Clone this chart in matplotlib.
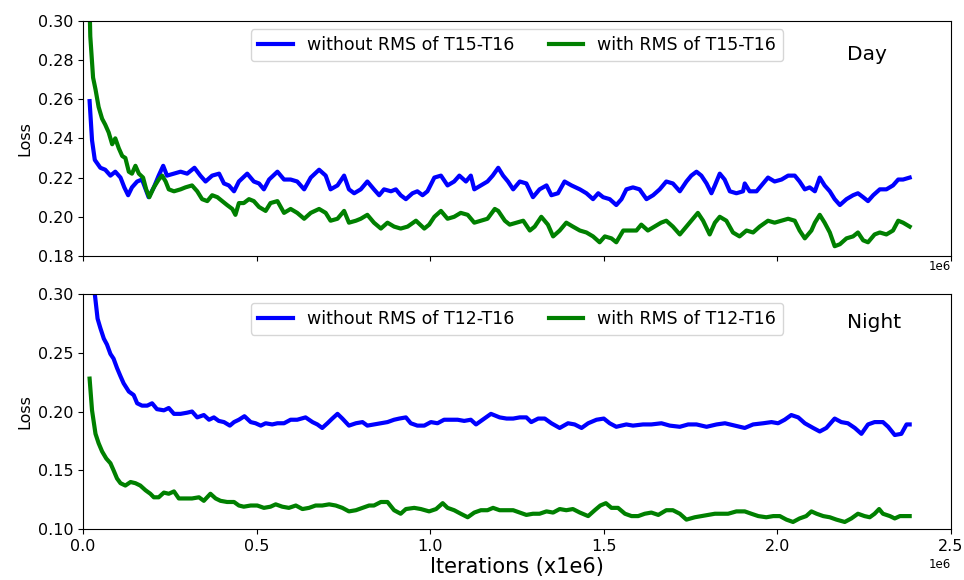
import matplotlib
matplotlib.use("Agg")
import matplotlib.pyplot as plt

# ---------------- data (iterations in units of 1e6) ----------------
day_without_x = [0.019, 0.026, 0.034, 0.050, 0.064, 0.079, 0.093, 0.108, 0.119, 0.130, 0.141, 0.156, 0.170, 0.189, 0.204,
                 0.218, 0.231, 0.242, 0.262, 0.281, 0.300, 0.321, 0.338, 0.353, 0.372, 0.392, 0.406, 0.420, 0.435, 0.449,
                 0.473, 0.492, 0.507, 0.521, 0.536, 0.560, 0.579, 0.598, 0.617, 0.637, 0.656, 0.680, 0.699, 0.713, 0.733,
                 0.752, 0.766, 0.781, 0.800, 0.819, 0.838, 0.853, 0.867, 0.887, 0.901, 0.915, 0.930, 0.949, 0.963, 0.978,
                 0.992, 1.012, 1.031, 1.050, 1.069, 1.084, 1.103, 1.117, 1.127, 1.146, 1.165, 1.180, 1.196, 1.210, 1.224,
                 1.239, 1.258, 1.277, 1.296, 1.315, 1.335, 1.349, 1.368, 1.387, 1.407, 1.431, 1.450, 1.469, 1.484, 1.498,
                 1.517, 1.536, 1.551, 1.565, 1.584, 1.603, 1.623, 1.642, 1.661, 1.680, 1.699, 1.719, 1.738, 1.752, 1.767,
                 1.781, 1.796, 1.810, 1.820, 1.834, 1.848, 1.863, 1.882, 1.901, 1.906, 1.920, 1.940, 1.954, 1.973, 1.992,
                 2.012, 2.031, 2.050, 2.064, 2.079, 2.093, 2.108, 2.122, 2.136, 2.151, 2.165, 2.180, 2.199, 2.218, 2.232,
                 2.247, 2.261, 2.276, 2.295, 2.314, 2.333, 2.348, 2.362, 2.381]
day_without_y = [0.259, 0.239, 0.229, 0.225, 0.224, 0.221, 0.223, 0.220, 0.215, 0.211, 0.215, 0.218, 0.219, 0.210, 0.215,
                 0.221, 0.226, 0.221, 0.222, 0.223, 0.222, 0.225, 0.221, 0.218, 0.221, 0.222, 0.217, 0.216, 0.213, 0.218,
                 0.222, 0.218, 0.217, 0.214, 0.219, 0.223, 0.219, 0.219, 0.218, 0.214, 0.220, 0.224, 0.221, 0.214, 0.216,
                 0.221, 0.214, 0.212, 0.214, 0.218, 0.214, 0.211, 0.214, 0.213, 0.214, 0.211, 0.209, 0.212, 0.213, 0.211,
                 0.213, 0.220, 0.221, 0.216, 0.218, 0.221, 0.218, 0.221, 0.214, 0.216, 0.218, 0.221, 0.225, 0.221, 0.218,
                 0.214, 0.218, 0.217, 0.210, 0.214, 0.216, 0.211, 0.212, 0.218, 0.216, 0.214, 0.212, 0.209, 0.212, 0.210,
                 0.209, 0.206, 0.209, 0.214, 0.215, 0.214, 0.209, 0.211, 0.214, 0.218, 0.217, 0.213, 0.218, 0.221, 0.223,
                 0.221, 0.217, 0.212, 0.216, 0.222, 0.219, 0.213, 0.212, 0.213, 0.217, 0.213, 0.213, 0.216, 0.220, 0.218,
                 0.219, 0.221, 0.221, 0.218, 0.214, 0.215, 0.213, 0.220, 0.216, 0.213, 0.209, 0.206, 0.209, 0.211, 0.212,
                 0.210, 0.208, 0.211, 0.214, 0.214, 0.216, 0.219, 0.219, 0.220]

day_with_x = [0.016, 0.021, 0.029, 0.036, 0.045, 0.055, 0.064, 0.074, 0.084, 0.093, 0.103, 0.113, 0.122, 0.132, 0.141,
              0.151, 0.161, 0.173, 0.182, 0.191, 0.204, 0.218, 0.228, 0.238, 0.247, 0.262, 0.281, 0.295, 0.314, 0.329,
              0.343, 0.358, 0.372, 0.387, 0.401, 0.415, 0.430, 0.439, 0.449, 0.463, 0.478, 0.492, 0.507, 0.526, 0.540,
              0.560, 0.579, 0.598, 0.617, 0.637, 0.656, 0.680, 0.699, 0.713, 0.733, 0.752, 0.766, 0.786, 0.800, 0.819,
              0.838, 0.858, 0.877, 0.896, 0.915, 0.935, 0.959, 0.983, 0.997, 1.012, 1.031, 1.050, 1.069, 1.088, 1.108,
              1.127, 1.146, 1.165, 1.186, 1.196, 1.215, 1.229, 1.248, 1.268, 1.287, 1.301, 1.320, 1.339, 1.354, 1.373,
              1.392, 1.411, 1.431, 1.450, 1.469, 1.488, 1.503, 1.522, 1.536, 1.556, 1.575, 1.594, 1.608, 1.627, 1.646,
              1.665, 1.680, 1.699, 1.719, 1.738, 1.757, 1.771, 1.786, 1.805, 1.820, 1.834, 1.853, 1.872, 1.891, 1.911,
              1.930, 1.949, 1.973, 1.992, 2.012, 2.031, 2.050, 2.064, 2.079, 2.098, 2.108, 2.122, 2.136, 2.151, 2.165,
              2.180, 2.199, 2.218, 2.232, 2.247, 2.261, 2.280, 2.295, 2.314, 2.333, 2.348, 2.362, 2.381]
day_with_y = [0.330, 0.292, 0.271, 0.265, 0.256, 0.250, 0.247, 0.243, 0.237, 0.240, 0.235, 0.231, 0.230, 0.223, 0.222,
              0.226, 0.222, 0.220, 0.214, 0.210, 0.215, 0.219, 0.221, 0.218, 0.214, 0.213, 0.214, 0.215, 0.216, 0.213,
              0.209, 0.208, 0.211, 0.210, 0.208, 0.206, 0.204, 0.201, 0.207, 0.207, 0.209, 0.208, 0.205, 0.203, 0.207,
              0.208, 0.202, 0.204, 0.202, 0.199, 0.202, 0.204, 0.202, 0.198, 0.199, 0.203, 0.197, 0.198, 0.199, 0.201,
              0.197, 0.194, 0.197, 0.195, 0.194, 0.195, 0.198, 0.194, 0.196, 0.200, 0.203, 0.199, 0.200, 0.202, 0.201,
              0.197, 0.198, 0.199, 0.204, 0.203, 0.198, 0.196, 0.197, 0.198, 0.193, 0.195, 0.200, 0.196, 0.190, 0.193,
              0.197, 0.195, 0.193, 0.192, 0.190, 0.187, 0.190, 0.189, 0.187, 0.193, 0.193, 0.193, 0.196, 0.193, 0.195,
              0.197, 0.198, 0.195, 0.191, 0.195, 0.199, 0.202, 0.198, 0.191, 0.197, 0.200, 0.198, 0.192, 0.190, 0.193,
              0.192, 0.195, 0.198, 0.197, 0.198, 0.199, 0.198, 0.193, 0.189, 0.193, 0.197, 0.201, 0.197, 0.192, 0.185,
              0.186, 0.189, 0.190, 0.192, 0.188, 0.187, 0.191, 0.192, 0.191, 0.193, 0.198, 0.197, 0.195]

night_without_x = [0.020, 0.034, 0.042, 0.050, 0.060, 0.069, 0.079, 0.088, 0.098, 0.108, 0.117, 0.132, 0.146, 0.156, 0.170,
                   0.185, 0.199, 0.213, 0.233, 0.247, 0.262, 0.281, 0.300, 0.314, 0.329, 0.348, 0.363, 0.377, 0.391, 0.406,
                   0.423, 0.435, 0.449, 0.465, 0.483, 0.497, 0.512, 0.526, 0.545, 0.560, 0.579, 0.598, 0.617, 0.641, 0.661,
                   0.675, 0.689, 0.704, 0.718, 0.733, 0.747, 0.766, 0.786, 0.805, 0.819, 0.838, 0.858, 0.877, 0.896, 0.911,
                   0.930, 0.944, 0.963, 0.983, 1.002, 1.021, 1.040, 1.060, 1.079, 1.098, 1.117, 1.132, 1.151, 1.175, 1.200,
                   1.220, 1.239, 1.258, 1.277, 1.291, 1.311, 1.330, 1.349, 1.373, 1.397, 1.416, 1.436, 1.455, 1.479, 1.500,
                   1.517, 1.536, 1.565, 1.584, 1.613, 1.637, 1.666, 1.690, 1.719, 1.743, 1.767, 1.796, 1.825, 1.849, 1.878,
                   1.906, 1.930, 1.959, 1.983, 2.002, 2.021, 2.040, 2.060, 2.079, 2.103, 2.122, 2.141, 2.165, 2.184, 2.203,
                   2.223, 2.242, 2.261, 2.280, 2.304, 2.319, 2.338, 2.357, 2.372, 2.381]
night_without_y = [0.340, 0.300, 0.279, 0.271, 0.262, 0.257, 0.249, 0.245, 0.237, 0.230, 0.224, 0.217, 0.214, 0.207, 0.205,
                   0.205, 0.207, 0.202, 0.201, 0.203, 0.198, 0.198, 0.199, 0.200, 0.195, 0.197, 0.193, 0.195, 0.192, 0.191,
                   0.188, 0.191, 0.193, 0.196, 0.191, 0.190, 0.188, 0.190, 0.189, 0.190, 0.190, 0.193, 0.193, 0.195, 0.191,
                   0.189, 0.186, 0.190, 0.194, 0.198, 0.194, 0.188, 0.190, 0.191, 0.188, 0.189, 0.190, 0.191, 0.193, 0.194,
                   0.195, 0.190, 0.188, 0.188, 0.191, 0.190, 0.193, 0.193, 0.193, 0.192, 0.193, 0.189, 0.193, 0.198, 0.195,
                   0.194, 0.194, 0.195, 0.195, 0.191, 0.194, 0.194, 0.190, 0.186, 0.190, 0.189, 0.186, 0.190, 0.193, 0.194,
                   0.190, 0.187, 0.189, 0.188, 0.189, 0.189, 0.190, 0.188, 0.187, 0.189, 0.189, 0.187, 0.189, 0.190, 0.188,
                   0.186, 0.189, 0.190, 0.191, 0.190, 0.193, 0.197, 0.195, 0.190, 0.186, 0.183, 0.186, 0.194, 0.191, 0.190,
                   0.186, 0.181, 0.189, 0.191, 0.191, 0.187, 0.180, 0.181, 0.189, 0.189]

night_with_x = [0.019, 0.026, 0.036, 0.045, 0.055, 0.067, 0.079, 0.088, 0.098, 0.108, 0.122, 0.137, 0.151, 0.165, 0.180,
                0.194, 0.204, 0.218, 0.233, 0.247, 0.262, 0.276, 0.295, 0.314, 0.334, 0.348, 0.367, 0.382, 0.396, 0.415,
                0.435, 0.449, 0.463, 0.483, 0.502, 0.521, 0.540, 0.555, 0.574, 0.593, 0.613, 0.632, 0.651, 0.670, 0.689,
                0.709, 0.728, 0.747, 0.766, 0.786, 0.805, 0.824, 0.838, 0.858, 0.877, 0.896, 0.915, 0.930, 0.954, 0.973,
                0.997, 1.017, 1.036, 1.050, 1.069, 1.088, 1.108, 1.127, 1.146, 1.165, 1.181, 1.200, 1.220, 1.239, 1.258,
                1.277, 1.296, 1.315, 1.335, 1.354, 1.373, 1.392, 1.411, 1.431, 1.455, 1.474, 1.490, 1.506, 1.522, 1.541,
                1.561, 1.580, 1.599, 1.618, 1.637, 1.657, 1.680, 1.699, 1.719, 1.738, 1.762, 1.781, 1.800, 1.820, 1.839,
                1.858, 1.882, 1.906, 1.925, 1.945, 1.968, 1.988, 2.007, 2.026, 2.045, 2.064, 2.083, 2.098, 2.113, 2.132,
                2.151, 2.170, 2.194, 2.213, 2.232, 2.251, 2.266, 2.280, 2.293, 2.304, 2.324, 2.338, 2.353, 2.367, 2.381]
night_with_y = [0.228, 0.201, 0.181, 0.173, 0.166, 0.160, 0.156, 0.150, 0.143, 0.139, 0.137, 0.140, 0.139, 0.137, 0.133,
                0.130, 0.127, 0.127, 0.131, 0.130, 0.132, 0.126, 0.126, 0.126, 0.127, 0.124, 0.130, 0.126, 0.124, 0.123,
                0.123, 0.120, 0.119, 0.120, 0.120, 0.118, 0.119, 0.121, 0.119, 0.118, 0.120, 0.117, 0.118, 0.120, 0.120,
                0.121, 0.120, 0.118, 0.115, 0.116, 0.118, 0.120, 0.120, 0.123, 0.123, 0.116, 0.113, 0.117, 0.118, 0.117,
                0.115, 0.117, 0.122, 0.118, 0.116, 0.113, 0.110, 0.114, 0.116, 0.116, 0.118, 0.116, 0.116, 0.116, 0.114,
                0.112, 0.113, 0.113, 0.115, 0.114, 0.117, 0.116, 0.117, 0.114, 0.111, 0.116, 0.120, 0.122, 0.118, 0.118,
                0.113, 0.111, 0.111, 0.113, 0.114, 0.112, 0.116, 0.116, 0.113, 0.108, 0.110, 0.111, 0.112, 0.113, 0.113,
                0.113, 0.115, 0.115, 0.113, 0.111, 0.110, 0.111, 0.111, 0.108, 0.106, 0.109, 0.111, 0.115, 0.113, 0.111,
                0.110, 0.108, 0.106, 0.109, 0.113, 0.111, 0.110, 0.113, 0.117, 0.113, 0.111, 0.109, 0.111, 0.111, 0.111]

day_labels = ["without RMS of T15-T16", "with RMS of T15-T16"]
night_labels = ["without RMS of T12-T16", "with RMS of T12-T16"]
panel_titles = ["Day", "Night"]
SCALE = 1e6

# ---------------- figure ----------------
fig = plt.figure(figsize=(9.64, 5.80), dpi=100)
ax1 = fig.add_axes([0.0861, 0.5586, 0.9004, 0.4057])
ax2 = fig.add_axes([0.0861, 0.0879, 0.9004, 0.4052])

LW = 3.0
ax1.plot([v * SCALE for v in day_without_x], day_without_y, color="#0000ff", lw=LW, label=day_labels[0])
ax1.plot([v * SCALE for v in day_with_x], day_with_y, color="#008000", lw=LW, label=day_labels[1])
ax2.plot([v * SCALE for v in night_without_x], night_without_y, color="#0000ff", lw=LW, label=night_labels[0])
ax2.plot([v * SCALE for v in night_with_x], night_with_y, color="#008000", lw=LW, label=night_labels[1])

for ax in (ax1, ax2):
    ax.set_xlim(0, 2.5e6)
    ax.set_xticks([0, 0.5e6, 1.0e6, 1.5e6, 2.0e6, 2.5e6])
    ax.tick_params(labelsize=11.5)
    ax.set_ylabel("Loss", fontsize=11.5)
    ax.xaxis.get_offset_text().set_fontsize(8.5)

ax1.set_ylim(0.18, 0.30)
ax1.set_yticks([0.18, 0.20, 0.22, 0.24, 0.26, 0.28, 0.30])
ax1.tick_params(axis="x", labelbottom=False)
ax2.set_ylim(0.10, 0.30)
ax2.set_yticks([0.10, 0.15, 0.20, 0.25, 0.30])
ax2.set_xlabel("Iterations (x1e6)", fontsize=15, labelpad=2)

ax1.legend(loc="upper center", ncol=2, fontsize=12.5, framealpha=0.8)
ax2.legend(loc="upper center", ncol=2, fontsize=12.5, framealpha=0.8)

ax1.text(0.88, 0.833, panel_titles[0], transform=ax1.transAxes, fontsize=14.5, va="baseline")
ax2.text(0.88, 0.854, panel_titles[1], transform=ax2.transAxes, fontsize=14.5, va="baseline")

fig.canvas.draw()
ax1.xaxis.get_offset_text().set_visible(True)

fig.savefig("out.png", dpi=100)
